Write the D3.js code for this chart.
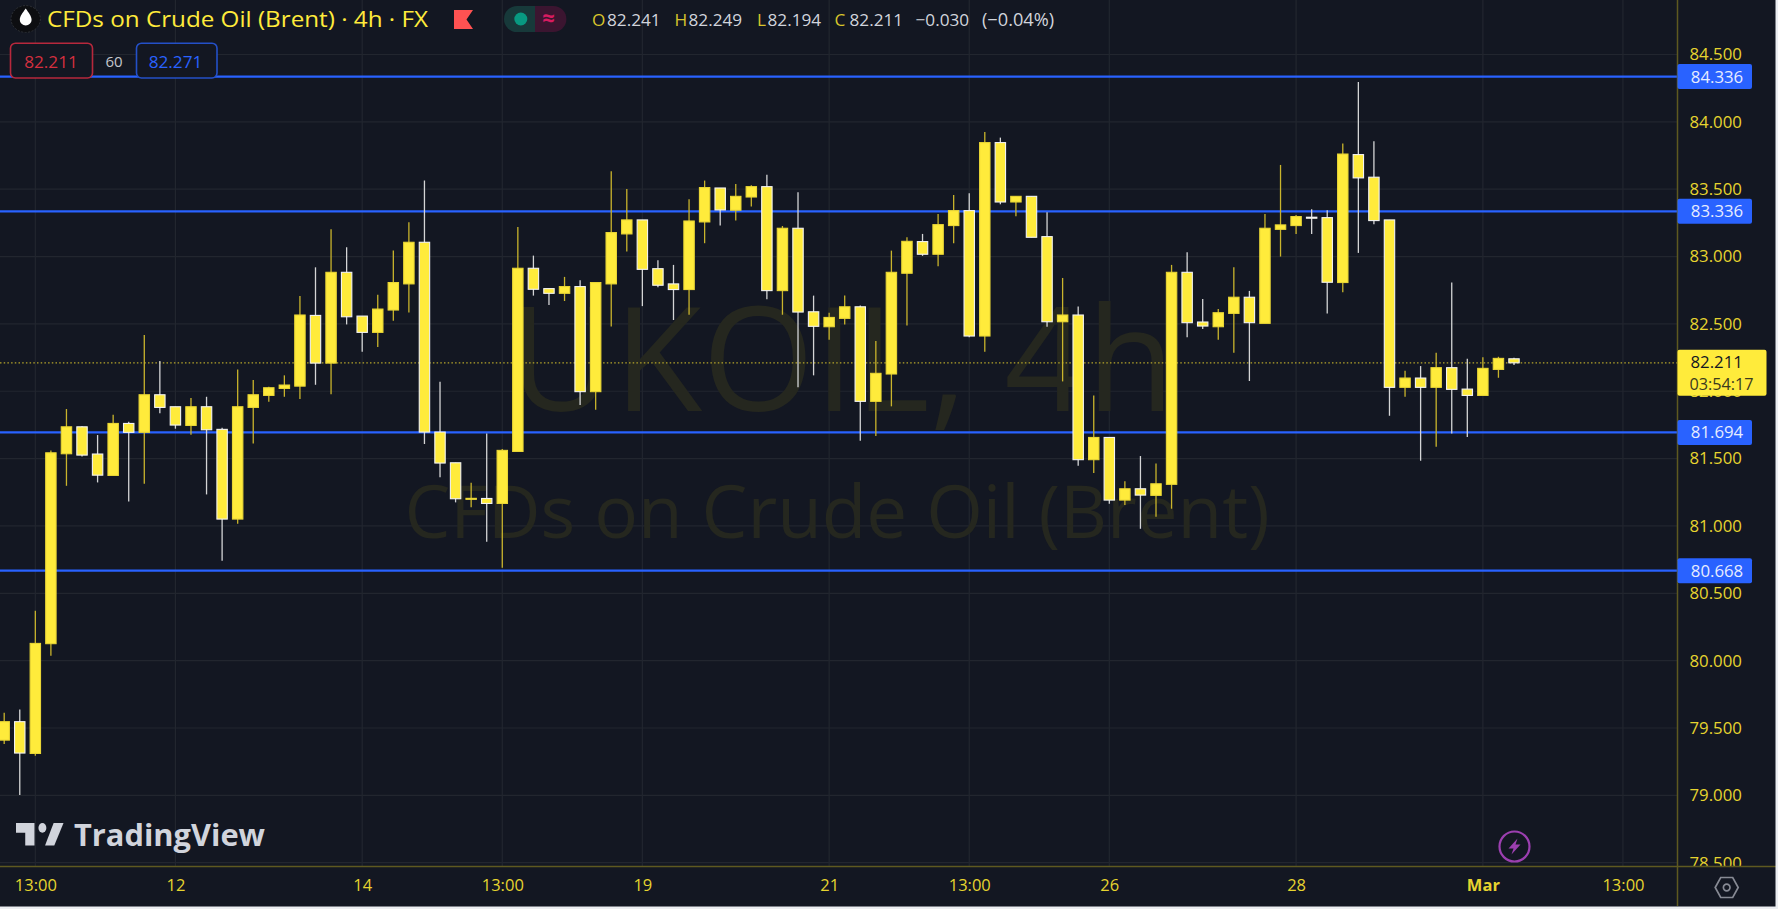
<!DOCTYPE html>
<html>
<head>
<meta charset="utf-8">
<script src="https://cdn.jsdelivr.net/npm/d3@7"></script>
<style>
html,body{margin:0;padding:0;background:#131722;overflow:hidden}
svg{display:block}
text{font-family:"Open Sans",sans-serif}
</style>
</head>
<body>
<svg id="c" width="1778" height="909"></svg>
<script>
// Candle values (oldest to newest)
const opens=[79.41,79.547,79.311,80.126,81.536,81.736,81.534,81.375,81.761,81.695,81.974,81.885,81.746,81.885,81.717,81.051,81.88,81.969,82.021,82.038,82.563,82.209,82.883,82.558,82.437,82.603,82.797,83.106,81.697,81.469,81.2,81.204,81.167,81.553,82.913,82.762,82.727,82.777,81.997,82.797,83.168,83.272,82.91,82.797,82.755,83.257,83.509,83.344,83.442,83.519,82.747,83.21,82.59,82.479,82.541,82.627,81.925,82.128,82.876,83.111,83.017,83.23,83.341,82.41,83.846,83.405,83.447,83.148,82.516,82.566,81.492,81.657,81.192,81.276,81.227,81.309,82.883,82.514,82.479,82.578,82.698,82.504,83.202,83.23,83.292,83.289,82.807,83.757,83.589,83.272,82.029,82.098,82.029,82.175,82.016,81.969,82.162,82.241];
const highs=[79.613,79.638,80.371,81.561,81.868,81.74,81.675,81.826,81.774,82.417,82.224,81.885,81.949,81.959,81.729,82.162,82.083,82.034,82.118,82.707,82.92,83.202,83.069,82.558,82.717,83.044,83.254,83.564,82.071,81.469,81.321,81.687,81.571,83.22,83.007,82.762,82.849,82.824,82.807,83.633,83.502,83.272,82.972,82.938,83.425,83.564,83.509,83.539,83.529,83.608,83.227,83.477,82.71,82.583,82.71,82.637,82.373,83.044,83.143,83.168,83.316,83.457,83.47,83.925,83.883,83.447,83.447,83.329,82.841,82.63,81.969,81.657,81.331,81.519,81.464,82.938,83.032,82.685,82.61,82.92,82.745,83.316,83.68,83.309,83.351,83.344,83.84,84.296,83.856,83.272,82.152,82.187,82.286,82.807,82.241,82.252,82.256,82.249];
const lows=[79.381,79.002,79.294,80.037,81.298,81.516,81.323,81.375,81.182,81.313,81.836,81.722,81.677,81.234,80.742,81.016,81.613,81.922,81.959,81.942,82.048,81.977,82.496,82.293,82.328,82.524,82.585,81.608,81.361,81.175,81.138,80.883,80.69,81.553,82.71,82.64,82.67,81.897,81.863,82.48,83.037,82.632,82.772,82.529,82.568,83.099,83.23,83.267,83.371,82.683,82.568,82.029,82.118,82.383,82.496,81.633,81.667,81.888,82.489,83.005,82.928,83.099,82.4,82.293,83.388,83.299,83.143,82.479,82.073,81.447,81.393,81.165,81.155,80.979,81.068,81.128,82.4,82.462,82.383,82.286,82.076,82.504,83.0,83.168,83.168,82.578,82.735,83.027,83.24,81.818,81.959,81.484,81.588,81.687,81.66,81.969,82.1,82.194];
const closes=[79.547,79.314,80.128,81.543,81.736,81.526,81.377,81.761,81.695,81.974,81.88,81.749,81.885,81.714,81.051,81.885,81.974,82.026,82.046,82.566,82.209,82.883,82.553,82.437,82.61,82.807,83.106,81.697,81.467,81.202,81.205,81.167,81.561,82.913,82.757,82.727,82.777,81.997,82.807,83.178,83.272,82.905,82.787,82.755,83.264,83.512,83.346,83.447,83.519,82.747,83.21,82.588,82.482,82.548,82.627,81.925,82.133,82.883,83.113,83.017,83.237,83.341,82.41,83.846,83.405,83.447,83.143,82.516,82.566,81.492,81.657,81.192,81.276,81.229,81.313,82.883,82.509,82.484,82.583,82.698,82.509,83.21,83.235,83.297,83.29,82.809,83.761,83.584,83.267,82.029,82.098,82.029,82.175,82.014,81.969,82.17,82.244,82.211];
const priceTicks=[78.5,79,79.5,80,80.5,81,81.5,82,82.5,83,83.5,84,84.5];
const timeTickIndex=[2,11,23,32,41,53,62,71,83,95,104];
const timeTickLabels=["13:00","12","14","13:00","19","21","13:00","26","28","Mar","13:00"];
const levels=[84.336,83.336,81.694,80.668];
const lastPrice=82.211;
const countdown="03:54:17";
const title="CFDs on Crude Oil (Brent) · 4h · FX";
const symbolMark="UKOIL, 4h";
const nameMark="CFDs on Crude Oil (Brent)";

const BG="#131722",YEL="#FFEB3B",BLUE="#2962FF",AXIS="#5e5920",GRID="#22262f";
const svg=d3.select("#c");
const plotR=1677.5,plotB=866.5;
const x=d3.scaleLinear().domain([0,97]).range([4.2,1514]);
const y=d3.scaleLinear().domain([78.5,84.5]).range([862.7,54.5]);

const defs=svg.append("defs");
defs.append("clipPath").attr("id","plot").append("rect").attr("width",plotR).attr("height",plotB);
defs.append("clipPath").attr("id","paxis").append("rect").attr("x",plotR).attr("width",110).attr("height",plotB);

svg.append("rect").attr("width",1778).attr("height",909).attr("fill",BG);

// grid
const grid=svg.append("g").attr("stroke",GRID).attr("stroke-width",1.2);
grid.selectAll(".h").data(priceTicks).join("line").attr("x1",0).attr("x2",plotR).attr("y1",d=>y(d)).attr("y2",d=>y(d));
grid.selectAll(".v").data(timeTickIndex).join("line").attr("y1",0).attr("y2",plotB).attr("x1",d=>x(d)).attr("x2",d=>x(d));

// watermark
const wm="#25271f";
svg.append("text").attr("x",842).attr("y",411).attr("text-anchor","middle").attr("font-size",144).attr("fill",wm).text(symbolMark);
svg.append("text").attr("x",837).attr("y",538).attr("text-anchor","middle").attr("font-size",72.8).attr("fill",wm).text(nameMark);

const plot=svg.append("g").attr("clip-path","url(#plot)");
// last-price dotted
plot.append("line").attr("x1",0).attr("x2",plotR).attr("y1",y(lastPrice)).attr("y2",y(lastPrice))
  .attr("stroke","#b5a52a").attr("stroke-width",1.2).attr("stroke-dasharray","1.5 2.2");
// levels
plot.selectAll(".lvl").data(levels).join("line").attr("x1",0).attr("x2",plotR)
  .attr("y1",d=>y(d)).attr("y2",d=>y(d)).attr("stroke",BLUE).attr("stroke-width",2.2);

// candles
const idx=d3.range(opens.length);
const up=i=>closes[i]>=opens[i];
plot.selectAll(".wick").data(idx).join("line")
  .attr("x1",i=>x(i)).attr("x2",i=>x(i)).attr("y1",i=>y(highs[i])).attr("y2",i=>y(lows[i]))
  .attr("stroke",i=>up(i)?"#c9b42c":"#d4d5d6").attr("stroke-width",1.3);
plot.selectAll(".body").data(idx).join("rect")
  .attr("x",i=>x(i)-5.2).attr("width",10.4)
  .attr("y",i=>y(Math.max(opens[i],closes[i])))
  .attr("height",i=>Math.max(1,Math.abs(y(opens[i])-y(closes[i]))))
  .attr("fill",YEL)
  .attr("stroke",i=>up(i)?"#e9d636":"#f2f2f2").attr("stroke-width",1.1);

// price axis
const pAxis=svg.append("g").attr("clip-path","url(#paxis)").append("g").attr("transform",`translate(${plotR},0)`)
  .call(d3.axisRight(y).tickValues(priceTicks).tickFormat(d3.format(".3f")).tickSize(0).tickPadding(12));
pAxis.select(".domain").remove();
pAxis.selectAll("text").attr("fill","#e6d42f").attr("font-size",16.8).attr("font-family",'"Open Sans",sans-serif');

// time axis
const tAxis=svg.append("g").attr("transform",`translate(0,${plotB})`)
  .call(d3.axisBottom(x).tickValues(timeTickIndex).tickFormat((d,i)=>timeTickLabels[i]).tickSize(0).tickPadding(13));
tAxis.select(".domain").remove();
tAxis.selectAll("text").attr("fill","#e6d42f").attr("font-size",16.5).attr("font-family",'"Open Sans",sans-serif')
  .attr("font-weight",(d,i)=>timeTickLabels[i]==="Mar"?700:400);

// axis borders
svg.append("line").attr("x1",0).attr("x2",1776).attr("y1",plotB).attr("y2",plotB).attr("stroke",AXIS).attr("stroke-width",1.5);
svg.append("line").attr("x1",plotR).attr("x2",plotR).attr("y1",0).attr("y2",906).attr("stroke",AXIS).attr("stroke-width",1.5);

// level tags
const tags=svg.selectAll(".tag").data(levels).join("g").attr("transform",d=>`translate(${plotR},${y(d)})`);
tags.append("rect").attr("x",0).attr("y",-12.5).attr("width",74.5).attr("height",25).attr("rx",2).attr("fill",BLUE);
tags.append("text").attr("x",39.5).attr("y",6).attr("text-anchor","middle").attr("font-size",16.8).attr("fill","#e6ecff").text(d=>d.toFixed(3));

// last price tag
const lt=svg.append("g").attr("transform",`translate(${plotR},${y(lastPrice)})`);
lt.append("rect").attr("x",0).attr("y",-13).attr("width",89).attr("height",46).attr("rx",2).attr("fill",YEL);
lt.append("text").attr("x",13).attr("y",5).attr("font-size",16.8).attr("fill",BG).text(lastPrice.toFixed(3));
lt.append("text").attr("x",12).attr("y",27).attr("font-size",16.2).attr("fill","#3b3a1e").text(countdown);

// header
const hdr=svg.append("g");
hdr.append("ellipse").attr("cx",25.7).attr("cy",19).attr("rx",14.7).attr("ry",13.4).attr("fill","#0d0e11").attr("stroke","#2f3237").attr("stroke-width",1).attr("stroke-dasharray","2 1.5");
hdr.append("path").attr("d","M25.7 8.5C22.6 13 19.8 16 19.8 20a5.9 5.4 0 0 0 11.8 0C31.6 16 28.8 13 25.7 8.5Z").attr("fill","#fff");
hdr.append("text").attr("x",47).attr("y",26.5).attr("font-size",21.5).attr("font-weight",500).attr("textLength",381).attr("lengthAdjust","spacingAndGlyphs").attr("fill",YEL).text(title);
hdr.append("path").attr("d","M454 10H473L466.5 19.5L473 29H454Z").attr("fill","#FF5252");
hdr.append("path").attr("d","M535 6H517a13 13 0 0 0 0 26H535Z").attr("fill","#17393a");
hdr.append("path").attr("d","M535 6H553.4a13 13 0 0 1 0 26H535Z").attr("fill","#3b1530");
hdr.append("circle").attr("cx",520.8).attr("cy",19).attr("r",6.5).attr("fill","#089981");
hdr.append("text").attr("x",548.5).attr("y",26).attr("text-anchor","middle").attr("font-size",22).attr("font-weight",700).attr("fill","#d81b60").text("≈");

const ohlc=[[592,"O","#d8c52c"],[607,"82.241","#d1d4dc"],[674.5,"H","#d8c52c"],[688.5,"82.249","#d1d4dc"],[757,"L","#d8c52c"],[767.5,"82.194","#d1d4dc"],[834.5,"C","#d8c52c"],[849.5,"82.211","#d1d4dc"],[915.5,"−0.030","#d1d4dc"],[982,"(−0.04%)","#d1d4dc"]];
hdr.selectAll(".o").data(ohlc).join("text").attr("x",d=>d[0]).attr("y",26).attr("font-size",d=>d[1].startsWith("(")?18.2:17.2).attr("fill",d=>d[2]).text(d=>d[1]);

// order boxes
hdr.append("rect").attr("x",10.5).attr("y",43.2).attr("width",82).attr("height",34.8).attr("rx",5).attr("fill",BG).attr("stroke","#b7283c").attr("stroke-width",1.6);
hdr.append("text").attr("x",51).attr("y",67.5).attr("text-anchor","middle").attr("font-size",17.2).attr("fill","#d32f3f").text("82.211");
hdr.append("text").attr("x",114).attr("y",67).attr("text-anchor","middle").attr("font-size",15).attr("fill","#c4c6cc").text("60");
hdr.append("rect").attr("x",136.5).attr("y",43.2).attr("width",80.5).attr("height",34.8).attr("rx",5).attr("fill",BG).attr("stroke","#2450c8").attr("stroke-width",1.6);
hdr.append("text").attr("x",175.5).attr("y",67.5).attr("text-anchor","middle").attr("font-size",17.2).attr("fill","#2962FF").text("82.271");

// TradingView logo
const tv=svg.append("g").attr("fill","#d1d4dc");
tv.append("g").attr("transform","translate(16,813.5) scale(1.32,1.6)").call(g=>{
  g.append("path").attr("d","M14 6H0v6h7v8h7V6Z");
  g.append("circle").attr("cx",20).attr("cy",9).attr("r",3);
  g.append("path").attr("d","M29 20H22l6.5-14H36L29 20Z");
});
tv.append("text").attr("x",74).attr("y",846).attr("font-size",30).attr("font-weight",700).attr("font-family","Inter,sans-serif").attr("textLength",191).attr("lengthAdjust","spacingAndGlyphs").text("TradingView");

// lightning
const lg=svg.append("g").attr("transform","translate(1514.5,846.5)");
lg.append("circle").attr("r",15).attr("fill","none").attr("stroke","#9c3fb0").attr("stroke-width",2.2);
lg.append("path").attr("d","M3 -8L-6 2H-1L-3 8L6 -2H1Z").attr("fill","#9c3fb0");

// settings
const sg=svg.append("g").attr("transform","translate(1726.7,887.5)").attr("fill","none").attr("stroke","#878a94").attr("stroke-width",1.7);
sg.append("path").attr("d","M-11.5 0L-6 -10H6L11.5 0L6 10H-6Z");
sg.append("circle").attr("r",3.3);

// screenshot edge
svg.append("rect").attr("x",0).attr("y",906.5).attr("width",1778).attr("height",2.5).attr("fill","#eceef2");
svg.append("rect").attr("x",1775.5).attr("y",0).attr("width",2.5).attr("height",909).attr("fill","#eceef2");
</script>
</body>
</html>
